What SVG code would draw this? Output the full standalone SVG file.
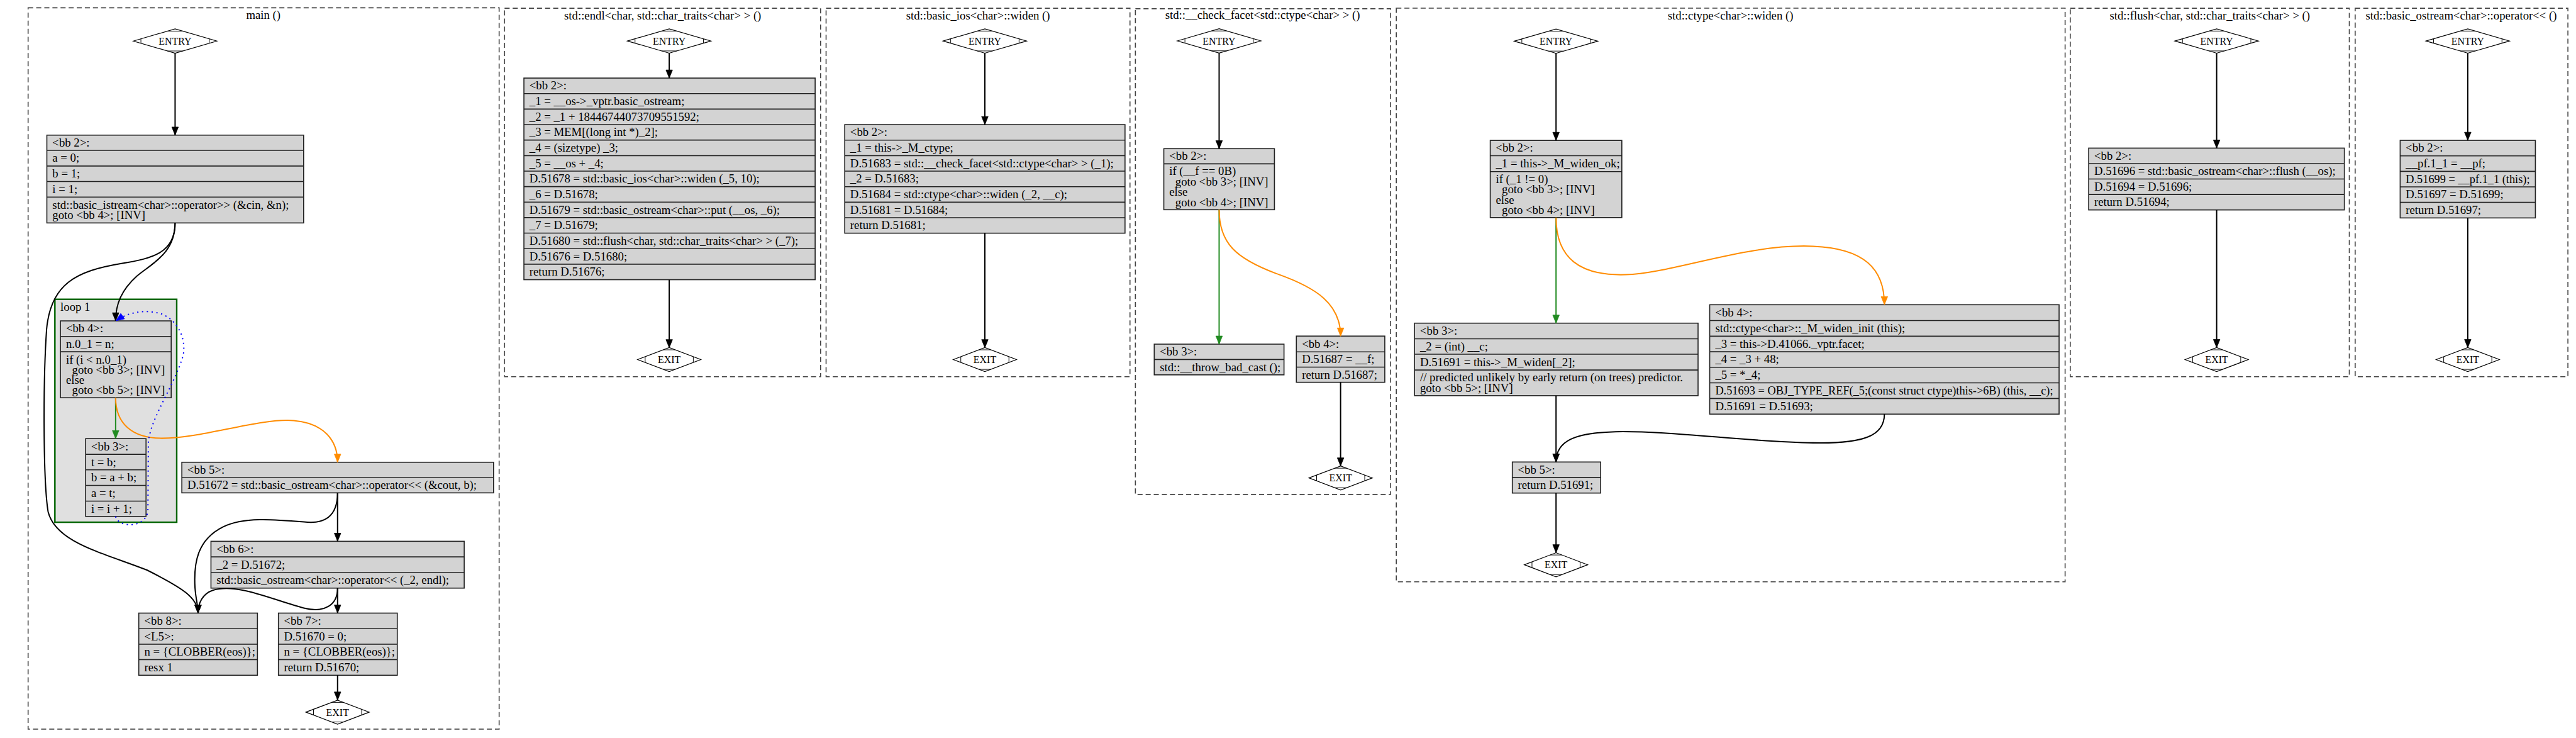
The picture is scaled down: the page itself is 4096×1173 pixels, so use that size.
<svg xmlns="http://www.w3.org/2000/svg" width="4096" height="1173" viewBox="0 0 4096 1173">
<style>
text{font-family:"Liberation Serif","Times New Roman",serif;font-size:23.3px;fill:#000}
.c{text-anchor:middle}
.dt{font-size:19.8px;text-anchor:middle}
.cl{fill:none;stroke:#444;stroke-width:2;stroke-dasharray:10,6}
.loop{fill:#e0e0e0;stroke:#006400;stroke-width:3}
.nb{fill:#d3d3d3;stroke:#222;stroke-width:2}
.sep{fill:none;stroke:#222;stroke-width:2}
.dm{fill:#fff;stroke:#000;stroke-width:1.5}
.tk{fill:none;stroke:#000;stroke-width:1.2}
.e{fill:none;stroke:#000;stroke-width:2.5;marker-end:url(#ak)}
.g{fill:none;stroke:#228b22;stroke-width:2.5;marker-end:url(#ag)}
.o{fill:none;stroke:#ff8c00;stroke-width:2.5;marker-end:url(#ao)}
.b{fill:none;stroke:#0000ff;stroke-width:2.5;stroke-dasharray:2.5,7;marker-end:url(#ab)}
</style>
<defs>
<marker id="ak" markerUnits="userSpaceOnUse" viewBox="-1 -1 19 15" markerWidth="19" markerHeight="15" refX="16" refY="6.5" orient="auto"><path d="M0,0L16,6.5L0,13z" fill="#000" stroke="#000"/></marker>
<marker id="ag" markerUnits="userSpaceOnUse" viewBox="-1 -1 19 15" markerWidth="19" markerHeight="15" refX="16" refY="6.5" orient="auto"><path d="M0,0L16,6.5L0,13z" fill="#228b22" stroke="#228b22"/></marker>
<marker id="ao" markerUnits="userSpaceOnUse" viewBox="-1 -1 19 15" markerWidth="19" markerHeight="15" refX="16" refY="6.5" orient="auto"><path d="M0,0L16,6.5L0,13z" fill="#ff8c00" stroke="#ff8c00"/></marker>
<marker id="ab" markerUnits="userSpaceOnUse" viewBox="-1 -1 19 15" markerWidth="19" markerHeight="15" refX="16" refY="6.5" orient="auto"><path d="M0,0L16,6.5L0,13z" fill="#0000ff" stroke="#0000ff"/></marker>
<g id="dE"><polygon class="dm" points="-82.5,0 0,-24 82.5,0 0,24"/><path class="tk" d="M-15.1,-19.6H15.1M-15.1,19.6H15.1M-67.5,-4.4V4.4M67.5,-4.4V4.4"/></g>
<g id="dX"><polygon class="dm" points="-62.5,0 0,-23.7 62.5,0 0,23.7"/><path class="tk" d="M-11.6,-19.3H11.6M-11.6,19.3H11.6M-47.5,-5.7V5.7M47.5,-5.7V5.7"/></g>
</defs>
<rect width="4096" height="1173" fill="#fff"/>
<g transform="scale(0.80535)">
<g id="clusters">
<g id="cluster_main"><rect class="cl" x="55.5" y="15.3" width="930" height="1423.7"/><text class="c" x="520" y="37">main ()</text></g>
<g id="cluster_loop1"><rect class="loop" x="108.4" y="590.7" width="240.5" height="440"/><text x="119.3" y="614">loop 1</text></g>
<g id="cluster_endl"><rect class="cl" x="996.2" y="16.3" width="624" height="727.1"/><text class="c" x="1308.4" y="38">std::endl&lt;char, std::char_traits&lt;char&gt; &gt; ()</text></g>
<g id="cluster_ios_widen"><rect class="cl" x="1631" y="16.3" width="600" height="727.1"/><text class="c" x="1931" y="38">std::basic_ios&lt;char&gt;::widen ()</text></g>
<g id="cluster_check_facet"><rect class="cl" x="2241.7" y="17.2" width="503.8" height="958.6"/><text class="c" x="2492.8" y="37">std::__check_facet&lt;std::ctype&lt;char&gt; &gt; ()</text></g>
<g id="cluster_ctype_widen"><rect class="cl" x="2756.8" y="16.1" width="1320.5" height="1132.2"/><text class="c" x="3416.7" y="38">std::ctype&lt;char&gt;::widen ()</text></g>
<g id="cluster_flush"><rect class="cl" x="4087.5" y="16.3" width="550.9" height="727.1"/><text class="c" x="4363" y="38">std::flush&lt;char, std::char_traits&lt;char&gt; &gt; ()</text></g>
<g id="cluster_op"><rect class="cl" x="4650" y="16.3" width="420" height="727.1"/><text class="c" x="4859.4" y="38">std::basic_ostream&lt;char&gt;::operator&lt;&lt; ()</text></g>
</g>
<g id="nodes">
<!-- main -->
<g id="main_entry"><use href="#dE" transform="translate(345.7,81)"/><text class="dt" x="345.7" y="88">ENTRY</text></g>
<g id="main_bb2"><rect class="nb" x="92.5" y="266.7" width="507" height="173.3"/><path class="sep" d="M92.5,296.7H599.5M92.5,327.7H599.5M92.5,358.3H599.5M92.5,389H599.5"/>
<text x="103.5" y="289.2">&lt;bb 2&gt;:</text><text x="103.5" y="319.7">a = 0;</text><text x="103.5" y="350.5">b = 1;</text><text x="103.5" y="381.2">i = 1;</text><text x="103.5" y="412">std::basic_istream&lt;char&gt;::operator&gt;&gt; (&amp;cin, &amp;n);</text><text x="103.5" y="432">goto &lt;bb 4&gt;; [INV]</text></g>
<g id="main_bb4"><rect class="nb" x="119.3" y="633.3" width="218.7" height="151.7"/><path class="sep" d="M119.3,664H338M119.3,694.3H338"/>
<text x="130.3" y="656.2">&lt;bb 4&gt;:</text><text x="130.3" y="686.7">n.0_1 = n;</text><text x="130.3" y="717.2">if (i &lt; n.0_1)</text><text x="142.2" y="737.2">goto &lt;bb 3&gt;; [INV]</text><text x="130.3" y="757.2">else</text><text x="142.2" y="777.2">goto &lt;bb 5&gt;; [INV]</text></g>
<g id="main_bb3"><rect class="nb" x="169" y="865.7" width="119.3" height="153.6"/><path class="sep" d="M169,896.7H288.3M169,927.3H288.3M169,958H288.3M169,989H288.3"/>
<text x="180" y="888.7">&lt;bb 3&gt;:</text><text x="180" y="919.5">t = b;</text><text x="180" y="950.2">b = a + b;</text><text x="180" y="981">a = t;</text><text x="180" y="1011.7">i = i + 1;</text></g>
<g id="main_bb5"><rect class="nb" x="359" y="912.3" width="615.5" height="60.4"/><path class="sep" d="M359,942.7H974.5"/>
<text x="370" y="935">&lt;bb 5&gt;:</text><text x="370" y="965.2">D.51672 = std::basic_ostream&lt;char&gt;::operator&lt;&lt; (&amp;cout, b);</text></g>
<g id="main_bb6"><rect class="nb" x="416.5" y="1068.3" width="500" height="92.4"/><path class="sep" d="M416.5,1099H916.5M416.5,1130H916.5"/>
<text x="427.5" y="1091.2">&lt;bb 6&gt;:</text><text x="427.5" y="1122">_2 = D.51672;</text><text x="427.5" y="1152.8">std::basic_ostream&lt;char&gt;::operator&lt;&lt; (_2, endl);</text></g>
<g id="main_bb8"><rect class="nb" x="274" y="1210" width="234.3" height="122.7"/><path class="sep" d="M274,1240.7H508.3M274,1271.3H508.3M274,1301.7H508.3"/>
<text x="285" y="1232.8">&lt;bb 8&gt;:</text><text x="285" y="1263.5">&lt;L5&gt;:</text><text x="285" y="1294">n = {CLOBBER(eos)};</text><text x="285" y="1324.7">resx 1</text></g>
<g id="main_bb7"><rect class="nb" x="549.7" y="1210" width="234.7" height="122.7"/><path class="sep" d="M549.7,1240.7H784.4M549.7,1271.3H784.4M549.7,1301.7H784.4"/>
<text x="560.7" y="1232.8">&lt;bb 7&gt;:</text><text x="560.7" y="1263.5">D.51670 = 0;</text><text x="560.7" y="1294">n = {CLOBBER(eos)};</text><text x="560.7" y="1324.7">return D.51670;</text></g>
<g id="main_exit"><use href="#dX" transform="translate(666.5,1405.5)"/><text class="dt" x="666.5" y="1412.5">EXIT</text></g>
<!-- endl -->
<g id="endl_entry"><use href="#dE" transform="translate(1321.3,80.9)"/><text class="dt" x="1321.3" y="87.9">ENTRY</text></g>
<g id="endl_bb2"><rect class="nb" x="1034.4" y="154.1" width="575" height="397.9"/><path class="sep" d="M1034.4,184.7H1609.4M1034.4,215.3H1609.4M1034.4,245.9H1609.4M1034.4,276.5H1609.4M1034.4,307.1H1609.4M1034.4,337.7H1609.4M1034.4,368.3H1609.4M1034.4,398.9H1609.4M1034.4,429.5H1609.4M1034.4,460.1H1609.4M1034.4,490.7H1609.4M1034.4,521.3H1609.4"/>
<text x="1045.2" y="176.9">&lt;bb 2&gt;:</text>
<text x="1045.2" y="207.5">_1 = __os-&gt;_vptr.basic_ostream;</text>
<text x="1045.2" y="238.1">_2 = _1 + 18446744073709551592;</text>
<text x="1045.2" y="268.7">_3 = MEM[(long int *)_2];</text>
<text x="1045.2" y="299.3">_4 = (sizetype) _3;</text>
<text x="1045.2" y="329.9">_5 = __os + _4;</text>
<text x="1045.2" y="360.5">D.51678 = std::basic_ios&lt;char&gt;::widen (_5, 10);</text>
<text x="1045.2" y="391.1">_6 = D.51678;</text>
<text x="1045.2" y="421.7">D.51679 = std::basic_ostream&lt;char&gt;::put (__os, _6);</text>
<text x="1045.2" y="452.3">_7 = D.51679;</text>
<text x="1045.2" y="482.9">D.51680 = std::flush&lt;char, std::char_traits&lt;char&gt; &gt; (_7);</text>
<text x="1045.2" y="513.5">D.51676 = D.51680;</text>
<text x="1045.2" y="544.1">return D.51676;</text></g>
<g id="endl_exit"><use href="#dX" transform="translate(1321.3,709.7)"/><text class="dt" x="1321.3" y="716.7">EXIT</text></g>
<!-- basic_ios widen -->
<g id="ios_entry"><use href="#dE" transform="translate(1944.5,80.9)"/><text class="dt" x="1944.5" y="87.9">ENTRY</text></g>
<g id="ios_bb2"><rect class="nb" x="1667.8" y="246" width="553.4" height="214.2"/><path class="sep" d="M1667.8,276.6H2221.2M1667.8,307.2H2221.2M1667.8,337.8H2221.2M1667.8,368.4H2221.2M1667.8,399H2221.2M1667.8,429.6H2221.2"/>
<text x="1678.6" y="268.8">&lt;bb 2&gt;:</text>
<text x="1678.6" y="299.4">_1 = this-&gt;_M_ctype;</text>
<text x="1678.6" y="330">D.51683 = std::__check_facet&lt;std::ctype&lt;char&gt; &gt; (_1);</text>
<text x="1678.6" y="360.6">_2 = D.51683;</text>
<text x="1678.6" y="391.2">D.51684 = std::ctype&lt;char&gt;::widen (_2, __c);</text>
<text x="1678.6" y="421.8">D.51681 = D.51684;</text>
<text x="1678.6" y="452.4">return D.51681;</text></g>
<g id="ios_exit"><use href="#dX" transform="translate(1944.5,709.7)"/><text class="dt" x="1944.5" y="716.7">EXIT</text></g>
<!-- check_facet -->
<g id="cf_entry"><use href="#dE" transform="translate(2407,80.7)"/><text class="dt" x="2407" y="87.7">ENTRY</text></g>
<g id="cf_bb2"><rect class="nb" x="2297.8" y="293.4" width="218.4" height="120.5"/><path class="sep" d="M2297.8,323.3H2516.2"/>
<text x="2308.6" y="315.9">&lt;bb 2&gt;:</text><text x="2308.6" y="345.5">if (__f == 0B)</text><text x="2320.5" y="365.9">goto &lt;bb 3&gt;; [INV]</text><text x="2308.6" y="386.3">else</text><text x="2320.5" y="406.7">goto &lt;bb 4&gt;; [INV]</text></g>
<g id="cf_bb3"><rect class="nb" x="2278.9" y="679.2" width="256.2" height="60.6"/><path class="sep" d="M2278.9,709.5H2535.1"/>
<text x="2289.9" y="701.5">&lt;bb 3&gt;:</text><text x="2289.9" y="732">std::__throw_bad_cast ();</text></g>
<g id="cf_bb4"><rect class="nb" x="2559.5" y="663.3" width="174.6" height="91.2"/><path class="sep" d="M2559.5,694.5H2734.1M2559.5,724.5H2734.1"/>
<text x="2570.5" y="686.4">&lt;bb 4&gt;:</text><text x="2570.5" y="717">D.51687 = __f;</text><text x="2570.5" y="747">return D.51687;</text></g>
<g id="cf_exit"><use href="#dX" transform="translate(2647,943.3)"/><text class="dt" x="2647" y="950.3">EXIT</text></g>
<!-- ctype widen -->
<g id="cw_entry"><use href="#dE" transform="translate(3072.2,81.2)"/><text class="dt" x="3072.2" y="88.2">ENTRY</text></g>
<g id="cw_bb2"><rect class="nb" x="2942.3" y="277.1" width="259.8" height="152.3"/><path class="sep" d="M2942.3,307.3H3202.1M2942.3,338.7H3202.1"/>
<text x="2953.3" y="299.7">&lt;bb 2&gt;:</text><text x="2953.3" y="330.5">_1 = this-&gt;_M_widen_ok;</text><text x="2953.3" y="360.9">if (_1 != 0)</text><text x="2965.2" y="381.3">goto &lt;bb 3&gt;; [INV]</text><text x="2953.3" y="401.7">else</text><text x="2965.2" y="422.1">goto &lt;bb 4&gt;; [INV]</text></g>
<g id="cw_bb3"><rect class="nb" x="2792.7" y="637.8" width="559.9" height="143.1"/><path class="sep" d="M2792.7,668.6H3352.6M2792.7,699.1H3352.6M2792.7,730.3H3352.6"/>
<text x="2803.7" y="660.7">&lt;bb 3&gt;:</text><text x="2803.7" y="691.4">_2 = (int) __c;</text><text x="2803.7" y="722.2">D.51691 = this-&gt;_M_widen[_2];</text><text x="2803.7" y="752.9">// predicted unlikely by early return (on trees) predictor.</text><text x="2803.7" y="773.3">goto &lt;bb 5&gt;; [INV]</text></g>
<g id="cw_bb4"><rect class="nb" x="3375.6" y="601.4" width="689.8" height="215.9"/><path class="sep" d="M3375.6,632.6H4065.4M3375.6,663.5H4065.4M3375.6,694.3H4065.4M3375.6,724.8H4065.4M3375.6,755.6H4065.4M3375.6,786.5H4065.4"/>
<text x="3386.6" y="624.5">&lt;bb 4&gt;:</text>
<text x="3386.6" y="655.5">std::ctype&lt;char&gt;::_M_widen_init (this);</text>
<text x="3386.6" y="686.4">_3 = this-&gt;D.41066._vptr.facet;</text>
<text x="3386.6" y="717">_4 = _3 + 48;</text>
<text x="3386.6" y="747.7">_5 = *_4;</text>
<text x="3386.6" y="778.5" textLength="667" lengthAdjust="spacingAndGlyphs">D.51693 = OBJ_TYPE_REF(_5;(const struct ctype)this-&gt;6B) (this, __c);</text>
<text x="3386.6" y="809.4">D.51691 = D.51693;</text></g>
<g id="cw_bb5"><rect class="nb" x="2985.9" y="911.8" width="174.4" height="61.3"/><path class="sep" d="M2985.9,942.6H3160.3"/>
<text x="2996.9" y="934.7">&lt;bb 5&gt;:</text><text x="2996.9" y="965.3">return D.51691;</text></g>
<g id="cw_exit"><use href="#dX" transform="translate(3072.2,1114.6)"/><text class="dt" x="3072.2" y="1121.6">EXIT</text></g>
<!-- flush -->
<g id="fl_entry"><use href="#dE" transform="translate(4376.5,80.9)"/><text class="dt" x="4376.5" y="87.9">ENTRY</text></g>
<g id="fl_bb2"><rect class="nb" x="4123.8" y="292.3" width="504.8" height="122"/><path class="sep" d="M4123.8,322.8H4628.6M4123.8,353.3H4628.6M4123.8,383.8H4628.6"/>
<text x="4134.8" y="315">&lt;bb 2&gt;:</text><text x="4134.8" y="345.5">D.51696 = std::basic_ostream&lt;char&gt;::flush (__os);</text><text x="4134.8" y="376">D.51694 = D.51696;</text><text x="4134.8" y="406.5">return D.51694;</text></g>
<g id="fl_exit"><use href="#dX" transform="translate(4376.5,709.7)"/><text class="dt" x="4376.5" y="716.7">EXIT</text></g>
<!-- operator<< -->
<g id="op_entry"><use href="#dE" transform="translate(4872.3,80.9)"/><text class="dt" x="4872.3" y="87.9">ENTRY</text></g>
<g id="op_bb2"><rect class="nb" x="4738.8" y="277" width="267" height="153.1"/><path class="sep" d="M4738.8,307.6H5005.8M4738.8,338.2H5005.8M4738.8,368.8H5005.8M4738.8,399.4H5005.8"/>
<text x="4749.8" y="299.8">&lt;bb 2&gt;:</text><text x="4749.8" y="330.4">__pf.1_1 = __pf;</text><text x="4749.8" y="361" textLength="245" lengthAdjust="spacingAndGlyphs">D.51699 = __pf.1_1 (this);</text><text x="4749.8" y="391.6">D.51697 = D.51699;</text><text x="4749.8" y="422.2">return D.51697;</text></g>
<g id="op_exit"><use href="#dX" transform="translate(4872.3,709.7)"/><text class="dt" x="4872.3" y="716.7">EXIT</text></g>
</g>
<g id="connectors">
<path class="e" d="M345.7,105V266.7"/>
<path class="e" d="M345.7,440C345.7,500 300,520 270,545C240,572 228.3,600 228.3,633.3"/>
<path class="e" d="M345.7,440C345.7,500 300,510 240,520C150,535 100,560 92,650C85,750 85,950 95,1010C110,1070 200,1090 290,1125C360,1160 391,1180 391,1210"/>
<path class="g" d="M228.3,785V865.7"/>
<path class="o" d="M228.3,785C228.3,835 260,865 320,865C400,865 510,825 580,830C640,835 666.5,870 666.5,912.3"/>
<path class="b" d="M228.3,1019.3C232,1040 285,1045 292,1010L293,870C300,820 345,760 362,700C368,660 345,630 320,620C290,610 255,615 229,633"/>
<path class="e" d="M666.5,972.7V1068.3"/>
<path class="e" d="M666.5,972.7C666.5,1020 640,1035 600,1030C540,1025 480,1020 440,1040C390,1065 382,1110 385,1160C387,1185 391,1195 391,1210"/>
<path class="e" d="M666.5,1160.7V1210"/>
<path class="e" d="M666.5,1160.7C666.5,1195 640,1210 600,1200C540,1185 470,1150 420,1165C400,1172 391,1190 391,1210"/>
<path class="e" d="M666.5,1332.7V1381.7"/>
<path class="e" d="M1321.3,104.6V154.1"/>
<path class="e" d="M1321.3,552V686.2"/>
<path class="e" d="M1944.5,104.6V246"/>
<path class="e" d="M1944.5,460.2V686.2"/>
<path class="e" d="M2407,104.7V293.4"/>
<path class="g" d="M2407,413.9V679.2"/>
<path class="o" d="M2407,413.9C2407,480 2440,510 2520,540C2600,568 2646.8,600 2646.8,663.3"/>
<path class="e" d="M2646.8,754.5V919.6"/>
<path class="e" d="M3072.2,105.2V277.1"/>
<path class="g" d="M3072.2,429.4V637.8"/>
<path class="o" d="M3072.2,429.4C3072.2,510 3120,545 3210,542C3300,540 3450,480 3580,486C3680,490 3720.5,530 3720.5,601.4"/>
<path class="e" d="M3072.2,780.9V911.8"/>
<path class="e" d="M3720.5,817.3C3720.5,860 3680,876 3580,874C3450,872 3300,850 3190,852C3110,854 3072.2,870 3072.2,911.8"/>
<path class="e" d="M3072.2,973.1V1090.9"/>
<path class="e" d="M4376.5,104.9V292.3"/>
<path class="e" d="M4376.5,414.3V686"/>
<path class="e" d="M4872.3,104.9V277"/>
<path class="e" d="M4872.3,430.1V686"/>
</g>
</g>
</svg>
